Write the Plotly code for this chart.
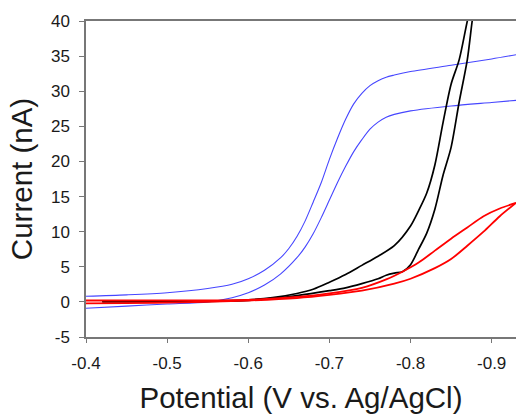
import plotly.graph_objects as go

# Potential (V vs. Ag/AgCl) and current (nA)
blue_fwd_x = [-0.40, -0.45, -0.50, -0.55, -0.58, -0.60, -0.62, -0.64, -0.65, -0.66, -0.67, -0.68,
              -0.69, -0.70, -0.71, -0.72, -0.73, -0.74, -0.75, -0.76, -0.77, -0.78, -0.80, -0.85,
              -0.90, -0.93]
blue_fwd_y = [0.8, 1.0, 1.3, 1.9, 2.5, 3.3, 4.5, 6.3, 7.6, 9.3, 11.5, 14.2,
              17.0, 20.3, 23.3, 26.0, 28.2, 29.7, 30.8, 31.5, 32.0, 32.3, 32.8, 33.7,
              34.6, 35.2]

blue_rev_x = [-0.40, -0.45, -0.50, -0.55, -0.58, -0.60, -0.62, -0.64, -0.66, -0.67, -0.68, -0.69,
              -0.70, -0.71, -0.72, -0.73, -0.74, -0.75, -0.76, -0.77, -0.78, -0.80, -0.85, -0.90,
              -0.93]
blue_rev_y = [-0.9, -0.6, -0.3, 0.0, 0.6, 1.3, 2.4, 4.0, 6.3, 7.8, 9.7, 12.0,
              14.5, 17.0, 19.3, 21.4, 23.1, 24.6, 25.6, 26.3, 26.7, 27.2, 27.9, 28.4,
              28.7]

black_a_x = [-0.42, -0.50, -0.55, -0.60, -0.63, -0.66, -0.68, -0.70, -0.72, -0.74, -0.76, -0.78,
             -0.80, -0.81, -0.82, -0.83, -0.84, -0.85, -0.86, -0.87, -0.88]
black_a_y = [0.1, 0.1, 0.15, 0.3, 0.6, 1.2, 1.8, 2.8, 3.9, 5.2, 6.5, 8.0,
             10.8, 13.0, 15.5, 19.5, 25.5, 31.0, 34.5, 40.0, 45.0]

black_b_x = [-0.42, -0.50, -0.60, -0.63, -0.66, -0.70, -0.72, -0.74, -0.76, -0.77, -0.78, -0.79,
             -0.80, -0.81, -0.82, -0.83, -0.84, -0.85, -0.86, -0.87, -0.876, -0.88]
black_b_y = [0.0, 0.0, 0.2, 0.5, 0.9, 1.6, 2.0, 2.6, 3.3, 3.8, 4.1, 4.3,
             5.3, 7.5, 9.8, 13.2, 18.0, 22.0, 28.5, 34.5, 40.0, 43.0]

red_a_x = [-0.40, -0.50, -0.60, -0.66, -0.70, -0.74, -0.77, -0.79, -0.81, -0.83, -0.85, -0.87,
           -0.89, -0.91, -0.93]
red_a_y = [0.2, 0.2, 0.3, 0.7, 1.2, 2.0, 3.2, 4.3, 5.6, 7.3, 9.0, 10.6,
           12.2, 13.3, 14.1]

red_b_x = [-0.40, -0.50, -0.60, -0.66, -0.70, -0.74, -0.78, -0.80, -0.83, -0.85, -0.87, -0.89,
           -0.91, -0.93]
red_b_y = [-0.2, -0.1, 0.2, 0.55, 1.0, 1.6, 2.6, 3.3, 4.8, 6.1, 8.0, 10.0,
           12.2, 14.1]

x_ticks = [-0.4, -0.5, -0.6, -0.7, -0.8, -0.9]
x_ticklabels = ["-0.4", "-0.5", "-0.6", "-0.7", "-0.8", "-0.9"]
y_ticks = [-5, 0, 5, 10, 15, 20, 25, 30, 35, 40]
y_ticklabels = ["-5", "0", "5", "10", "15", "20", "25", "30", "35", "40"]

BLUE = "#4646ff"
BLACK = "#000000"
RED = "#ff0000"
AXIS_GRAY = "#777777"
FONT = "Liberation Sans, Arial, sans-serif"

fig = go.Figure()

for xs, ys, color, width in [
    (blue_fwd_x, blue_fwd_y, BLUE, 1.1),
    (blue_rev_x, blue_rev_y, BLUE, 1.1),
    (black_a_x, black_a_y, BLACK, 1.7),
    (black_b_x, black_b_y, BLACK, 1.7),
    (red_a_x, red_a_y, RED, 1.8),
    (red_b_x, red_b_y, RED, 1.8),
]:
    fig.add_trace(
        go.Scatter(
            x=xs,
            y=ys,
            mode="lines",
            line=dict(color=color, width=width, shape="spline", smoothing=0.8),
            hoverinfo="skip",
        )
    )

fig.update_layout(
    width=516,
    height=414,
    margin=dict(l=86, r=0, t=21, b=77),
    paper_bgcolor="white",
    plot_bgcolor="white",
    showlegend=False,
    font=dict(family=FONT, color="#1a1a1a"),
)

fig.update_xaxes(
    range=[-0.4, -0.93],
    tickvals=x_ticks,
    ticktext=x_ticklabels,
    tickfont=dict(size=17),
    ticks="outside",
    ticklen=4,
    tickcolor=AXIS_GRAY,
    ticklabelstandoff=6,
    showline=True,
    linecolor=AXIS_GRAY,
    linewidth=1.5,
    mirror=True,
    showgrid=False,
    zeroline=False,
    automargin=False,
    title=dict(text="Potential (V vs. Ag/AgCl)", font=dict(size=29.5), standoff=16),
)

fig.update_yaxes(
    range=[-5, 40],
    tickvals=y_ticks,
    ticktext=y_ticklabels,
    tickfont=dict(size=17),
    ticks="outside",
    ticklen=5,
    tickcolor=AXIS_GRAY,
    ticklabelstandoff=6,
    showline=True,
    linecolor=AXIS_GRAY,
    linewidth=1.5,
    showgrid=False,
    zeroline=False,
    automargin=False,
    title=dict(text="Current (nA)", font=dict(size=29.5), standoff=10),
)

# the page's default 8px body margin would push the figure off the window
fig.write_html(
    "out.html",
    config={"displayModeBar": False},
    post_script="document.body.style.margin = '0';",
)
